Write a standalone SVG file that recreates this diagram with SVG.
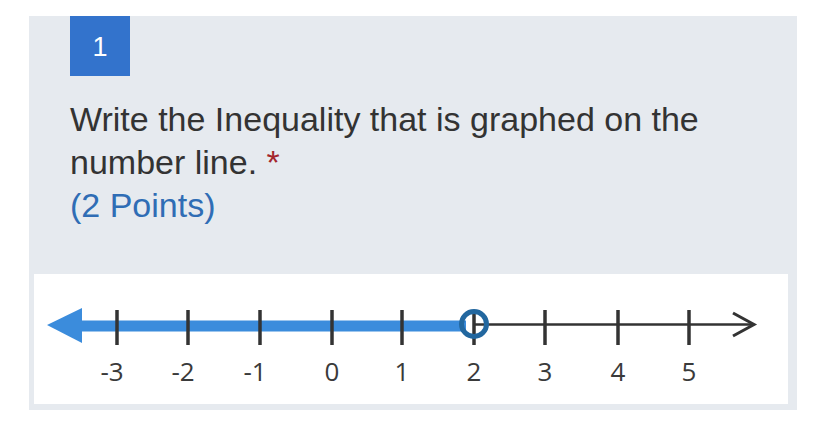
<svg xmlns="http://www.w3.org/2000/svg" width="828" height="438" viewBox="0 0 828 438">
<style>
.q{font-family:"Liberation Sans",Arial,sans-serif;font-size:34px;fill:#333333}
.lbl{font-family:"Open Sans","DejaVu Sans",sans-serif;font-size:26px;fill:#3a3a3a;text-anchor:middle}
.tick{stroke:#333333;stroke-width:3.5}
</style>
<rect x="0" y="0" width="828" height="438" fill="#ffffff"/>
<rect x="29" y="16" width="768" height="394" fill="#e6eaef"/>
<g id="badge">
<rect x="70" y="16" width="60" height="60" fill="#3373cc"/>
<text x="100" y="56" font-family="Liberation Sans,Arial,sans-serif" font-size="27" fill="#ffffff" text-anchor="middle">1</text>
</g>
<g id="question">
<text class="q" x="70" y="131">Write the Inequality that is graphed on the</text>
<text class="q" x="70" y="174">number line. <tspan fill="#a4262c" style="fill:#a4262c">*</tspan></text>
<text class="q" x="70" y="217" style="fill:#2f6db5">(2 Points)</text>
</g>
<g id="numberline">
<rect x="34" y="274" width="754" height="130" fill="#ffffff"/>
<line x1="474" y1="324.5" x2="754" y2="324.5" stroke="#333333" stroke-width="2.5"/>
<polyline points="733,313 754,324.5 733,336" fill="none" stroke="#333333" stroke-width="3"/>
<line x1="75" y1="326" x2="466" y2="326" stroke="#3b8cdc" stroke-width="11"/>
<polygon points="47,325 82,308 82,343" fill="#3b8cdc"/>
<line class="tick" x1="117" y1="310" x2="117" y2="345"/>
<line class="tick" x1="188" y1="310" x2="188" y2="345"/>
<line class="tick" x1="260" y1="310" x2="260" y2="345"/>
<line class="tick" x1="332" y1="310" x2="332" y2="345"/>
<line class="tick" x1="402" y1="310" x2="402" y2="345"/>
<line class="tick" x1="474" y1="310" x2="474" y2="345"/>
<line class="tick" x1="545" y1="310" x2="545" y2="345"/>
<line class="tick" x1="618" y1="310" x2="618" y2="345"/>
<line class="tick" x1="689" y1="310" x2="689" y2="345"/>
<circle cx="474" cy="324" r="12.5" fill="none" stroke="#22679f" stroke-width="5"/>
<text class="lbl" x="112" y="381">-3</text>
<text class="lbl" x="183" y="381">-2</text>
<text class="lbl" x="255" y="381">-1</text>
<text class="lbl" x="332" y="381">0</text>
<text class="lbl" x="402" y="381">1</text>
<text class="lbl" x="474" y="381">2</text>
<text class="lbl" x="545" y="381">3</text>
<text class="lbl" x="618" y="381">4</text>
<text class="lbl" x="689" y="381">5</text>
</g>
</svg>
